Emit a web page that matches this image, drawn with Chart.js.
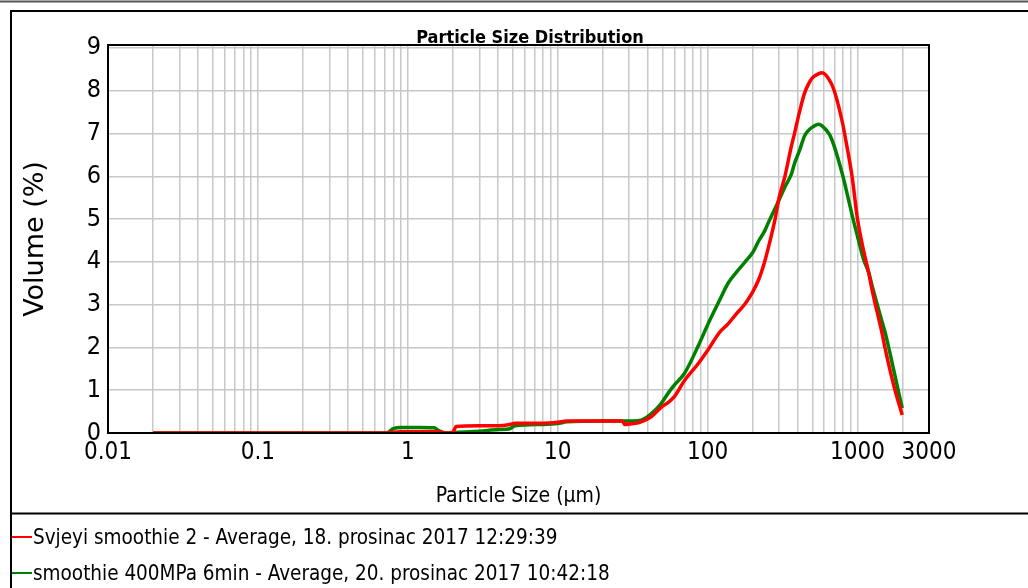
<!DOCTYPE html>
<html>
<head>
<meta charset="utf-8">
<script src="https://cdn.jsdelivr.net/npm/chart.js@4"></script>
<style>
  html, body { margin: 0; padding: 0; background: #fff; }
  canvas { display: block; }
</style>
</head>
<body>
<canvas id="chart" width="1028" height="588"></canvas>
<script>
// particle size (um) and volume (%)
const sizes = [0.02, 0.1, 0.5, 0.72, 0.8, 0.9, 1.2, 1.5, 1.6, 1.8, 2.0, 2.1, 3.0, 4.0, 4.8, 5.2, 8, 10, 11.5, 20, 27, 28, 32, 36, 42, 49, 55, 60, 70, 87, 101, 120, 137, 155, 178, 200, 220, 240, 253, 282, 300, 328, 362, 380, 410, 444, 470, 500, 552, 580, 650, 700, 800, 820, 920, 1000, 1100, 1188, 1250, 1459, 1535, 1750, 1988];
const freshValues = [0, 0, 0, 0, 0.02, 0.03, 0.03, 0.03, 0.03, 0, 0.02, 0.15, 0.17, 0.17, 0.2, 0.23, 0.23, 0.25, 0.28, 0.28, 0.28, 0.2, 0.22, 0.26, 0.38, 0.6, 0.72, 0.85, 1.22, 1.63, 1.95, 2.35, 2.55, 2.78, 3.02, 3.3, 3.6, 4.0, 4.3, 5.0, 5.5, 6.0, 6.7, 7.0, 7.5, 7.95, 8.15, 8.3, 8.4, 8.42, 8.25, 8.0, 7.2, 7.0, 6.0, 5.0, 4.25, 3.75, 3.35, 2.33, 1.95, 1.1, 0.42];
const hppValues = [0, 0, 0, 0, 0.1, 0.13, 0.13, 0.12, 0.06, 0, 0, 0.01, 0.04, 0.08, 0.1, 0.17, 0.2, 0.22, 0.26, 0.28, 0.28, 0.28, 0.28, 0.3, 0.45, 0.69, 0.95, 1.12, 1.39, 2.05, 2.56, 3.1, 3.5, 3.75, 4.0, 4.22, 4.5, 4.72, 4.9, 5.25, 5.45, 5.75, 6.05, 6.3, 6.6, 6.95, 7.07, 7.15, 7.22, 7.18, 6.98, 6.7, 6.0, 5.85, 5.1, 4.6, 4.05, 3.75, 3.45, 2.6, 2.33, 1.45, 0.58];

const seriesNames = [
  'Svjeyi smoothie 2 - Average, 18. prosinac 2017 12:29:39',
  'smoothie 400MPa 6min - Average, 20. prosinac 2017 10:42:18'
];
const seriesColors = ['#ff0000', '#008000'];

const xLabelTicks = [0.01, 0.1, 1, 10, 100, 1000, 3000];
const yTicks = [0, 1, 2, 3, 4, 5, 6, 7, 8, 9];

const narrow = '"DejaVu Sans Condensed", "Liberation Sans Narrow", "DejaVu Sans", sans-serif';

function points(values) {
  return sizes.map((s, i) => ({ x: s, y: values[i] }));
}

// every log grid line from 0.01 up to 3000
function logGridTicks() {
  const out = [];
  for (let e = -2; e <= 3; e++) {
    for (let m = 1; m <= 9; m++) {
      const v = Number((m * Math.pow(10, e)).toPrecision(3));
      if (v <= 3000) out.push({ value: v });
    }
  }
  return out;
}

const decor = {
  id: 'decor',
  beforeDraw(chart) {
    const ctx = chart.ctx;
    ctx.save();
    ctx.fillStyle = '#fff';
    ctx.fillRect(0, 0, chart.width, chart.height);
    ctx.restore();
  },
  afterDraw(chart) {
    const ctx = chart.ctx;
    const a = chart.chartArea;
    ctx.save();
    // outer frame
    ctx.strokeStyle = '#555';
    ctx.lineWidth = 2;
    ctx.beginPath();
    ctx.moveTo(0, 1.5); ctx.lineTo(1028, 1.5);
    ctx.stroke();
    ctx.strokeStyle = '#000';
    ctx.beginPath();
    ctx.moveTo(11, 588); ctx.lineTo(11, 11); ctx.lineTo(1028, 11);
    ctx.moveTo(11, 513.5); ctx.lineTo(1028, 513.5);
    ctx.stroke();
    // plot border
    ctx.lineWidth = 2;
    ctx.strokeRect(a.left, a.top, a.right - a.left, a.bottom - a.top);
    // title
    ctx.fillStyle = '#000';
    ctx.font = 'bold 18px ' + narrow;
    ctx.textAlign = 'center';
    ctx.textBaseline = 'bottom';
    ctx.fillText('Particle Size Distribution', 530, a.top + 2);
    // legend
    ctx.font = '20.5px ' + narrow;
    ctx.textAlign = 'left';
    ctx.textBaseline = 'middle';
    chart.data.datasets.forEach((ds, i) => {
      const y = 537 + i * 36;
      ctx.strokeStyle = ds.borderColor;
      ctx.lineWidth = 2;
      ctx.beginPath();
      ctx.moveTo(12, y); ctx.lineTo(32, y);
      ctx.stroke();
      ctx.fillStyle = '#000';
      ctx.fillText(ds.label, 33, y + 2);
    });
    ctx.restore();
  }
};

new Chart(document.getElementById('chart'), {
  type: 'scatter',
  data: {
    datasets: [0, 1].map(i => ({
      label: seriesNames[i],
      data: points(i === 0 ? freshValues : hppValues),
      showLine: true,
      borderColor: seriesColors[i],
      backgroundColor: seriesColors[i],
      borderWidth: 3.5,
      pointRadius: 0,
      cubicInterpolationMode: 'monotone'
    }))
  },
  options: {
    responsive: false,
    animation: false,
    layout: { padding: { left: 12, right: 99, top: 45, bottom: 75 } },
    plugins: {
      legend: { display: false },
      title: { display: false },
      tooltip: { enabled: false }
    },
    scales: {
      x: {
        type: 'logarithmic',
        min: 0.01,
        max: 3000,
        afterBuildTicks: scale => { scale.ticks = logGridTicks(); },
        afterFit: scale => { scale.height = 80; },
        grid: { color: '#c8c8c8', lineWidth: 1.5, drawTicks: false },
        border: { display: false },
        ticks: {
          autoSkip: false,
          maxRotation: 0,
          padding: 5,
          color: '#000',
          font: { family: narrow, size: 24 },
          callback: v => {
            const hit = xLabelTicks.find(t => Math.abs(t - v) < t * 1e-6);
            return hit === undefined ? '' : String(hit);
          }
        },
        title: {
          display: true,
          text: 'Particle Size (µm)',
          color: '#000',
          font: { family: narrow, size: 21 },
          padding: { top: 0, bottom: 4 }
        }
      },
      y: {
        min: 0,
        max: 9.07,
        afterBuildTicks: scale => { scale.ticks = yTicks.map(v => ({ value: v })); },
        afterFit: scale => { scale.width = 96; },
        grid: { color: '#c8c8c8', lineWidth: 1.5, drawTicks: false },
        border: { display: false },
        ticks: {
          padding: 7,
          color: '#000',
          font: { family: narrow, size: 25 }
        },
        title: {
          display: true,
          text: 'Volume (%)',
          color: '#000',
          font: { family: '"DejaVu Sans", Verdana, sans-serif', size: 27 },
          padding: { top: 8, bottom: 0 }
        }
      }
    }
  },
  plugins: [decor]
});
</script>
</body>
</html>
